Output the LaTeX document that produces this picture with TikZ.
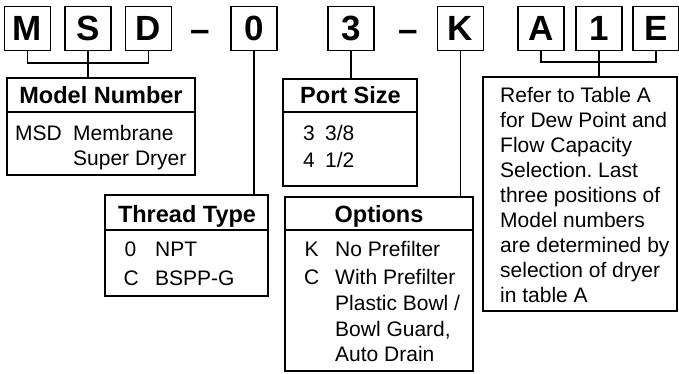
\documentclass[tikz,border=0pt]{standalone}
\usepackage{fontspec}
\setmainfont{Liberation Sans}
\frenchspacing
\begin{document}
\begin{tikzpicture}[x=1pt,y=-1pt,
  letterbox/.style={draw,line width=1.4pt,minimum width=46pt,minimum height=44pt,inner sep=0pt,font=\fontsize{35}{35}\bfseries},
  dashmark/.style={inner sep=0pt,anchor=base,font=\fontsize{35}{35}\bfseries},
  tablebox/.style={draw,line width=2pt,inner sep=0pt},
  divider/.style={line width=2pt},
  head/.style={font=\fontsize{23.5}{24}\bfseries,inner sep=0pt,anchor=base},
  body/.style={font=\fontsize{21}{25}\selectfont,inner sep=0pt,anchor=base west},
  conn/.style={line width=1.6pt}]
\useasboundingbox (0,0) rectangle (679,373);

% top code boxes
\node[letterbox] (M) at (27.5,28.3) {M};
\node[letterbox] (S) at (88,28.3) {S};
\node[letterbox] (D) at (148.5,28.3) {D};
\node[dashmark] (dashA) at (200,41) {–};
\node[letterbox] (zero) at (254,28.3) {0};
\node[letterbox] (three) at (351,28.3) {3};
\node[dashmark] (dashB) at (408,41) {–};
\node[letterbox] (K) at (460.5,28.3) {K};
\node[letterbox] (A) at (541,28.3) {A};
\node[letterbox] (one) at (599,28.3) {1};
\node[letterbox] (E) at (656,28.3) {E};

% tables
\node[tablebox,minimum width=188pt,minimum height=97pt] (model) at (101,126.5) {};
\draw[divider] ([yshift=-35pt]model.north west) -- ([yshift=-35pt]model.north east);
\node[head] (modelhead) at (101,103) {Model Number};
\node[body] (msd) at (15,140) {MSD};
\node[body] (membrane) at (73,140) {Membrane};
\node[body] (superdryer) at (73,165.5) {Super Dryer};

\node[tablebox,minimum width=163pt,minimum height=101pt] (thread) at (186.5,245.5) {};
\draw[divider] ([yshift=-36pt]thread.north west) -- ([yshift=-36pt]thread.north east);
\node[head] (threadhead) at (187,222) {Thread Type};
\node[body] (t0) at (124.5,256) {0};
\node[body] (tnpt) at (155,256) {NPT};
\node[body] (tc) at (123.5,285) {C};
\node[body] (tbspp) at (155,285) {BSPP-G};

\node[tablebox,minimum width=134pt,minimum height=107pt] (port) at (350,132.5) {};
\draw[divider] ([yshift=-34pt]port.north west) -- ([yshift=-34pt]port.north east);
\node[head] (porthead) at (350.5,103) {Port Size};
\node[body] (p3) at (303,140) {3};
\node[body] (p38) at (325,140) {3/8};
\node[body] (p4) at (303,167) {4};
\node[body] (p12) at (325,167) {1/2};

\node[tablebox,minimum width=188pt,minimum height=174pt] (options) at (379,284) {};
\draw[divider] ([yshift=-34pt]options.north west) -- ([yshift=-34pt]options.north east);
\node[head] (optionshead) at (379,222) {Options};
\node[body] (ok) at (304.5,256.7) {K};
\node[body] (onopre) at (335,256.7) {No Prefilter};
\node[body] (oc) at (304,284.3) {C};
\node[body] (owith) at (335,284.3) {With Prefilter};
\node[body] (oplastic) at (335,310) {Plastic Bowl /};
\node[body] (obowl) at (335,336.7) {Bowl Guard,};
\node[body] (oauto) at (335,361.7) {Auto Drain};

\node[tablebox,minimum width=194pt,minimum height=234pt] (note) at (580,194) {};
\foreach \t [count=\i from 0] in {Refer to Table A,for Dew Point and,Flow Capacity,Selection. Last,three positions of,Model numbers,are determined by,selection of dryer,in table A}
  \node[body] (note\i) at (500,{102+25.1*\i}) {\t};

% connectors
\draw[conn] (M.south) -- ++(0,12) -| (D.south);
\draw[conn] (S.south) -- (S.south |- model.north);
\draw[conn] (zero.south) -- (zero.south |- thread.north);
\draw[conn] (three.south) -- (three.south |- port.north);
\draw[conn] (K.south) -- (K.south |- options.north);
\draw[conn] (A.south) -- ++(0,11) -| (E.south);
\draw[conn] (one.south) -- (one.south |- note.north);
\end{tikzpicture}
\end{document}
